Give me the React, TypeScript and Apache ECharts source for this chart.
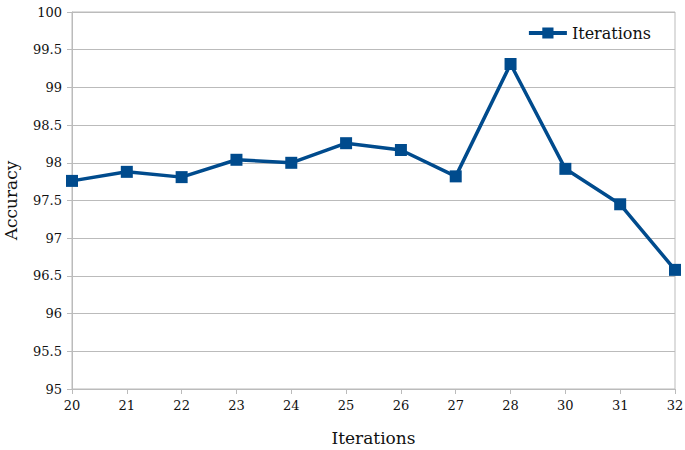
import React, { useEffect, useRef } from "react";
import * as echarts from "echarts";

const categories = ["20", "21", "22", "23", "24", "25", "26", "27", "28", "30", "31", "32"];
const accuracy = [97.76, 97.88, 97.81, 98.04, 98.0, 98.26, 98.17, 97.82, 99.31, 97.92, 97.45, 96.58];
const seriesName = "Iterations";

const FONT = "'DejaVu Serif', 'Liberation Serif', serif";
const BLUE = "#004b8d";

export default function App() {
  const ref = useRef<HTMLDivElement>(null);
  useEffect(() => {
    if (!ref.current) return;
    const chart = echarts.init(ref.current, null, { renderer: "svg" });
    chart.setOption({
      animation: false,
      backgroundColor: "#ffffff",
      textStyle: { fontFamily: FONT },
      grid: {
        left: 72,
        right: 10,
        top: 12,
        bottom: 61,
        outerBoundsMode: "none",
        containLabel: false,
        show: true,
        borderColor: "#bbbbbb",
        borderWidth: 1,
      },
      legend: {
        right: 29,
        top: 20,
        itemWidth: 38,
        itemHeight: 14,
        itemGap: 5,
        lineStyle: { width: 4 },
        textStyle: { fontFamily: FONT, fontSize: 16, color: "#111" },
        data: [seriesName],
      },
      xAxis: {
        type: "category",
        data: categories,
        boundaryGap: false,
        name: "Iterations",
        nameLocation: "middle",
        nameGap: 40,
        nameTextStyle: { fontFamily: FONT, fontSize: 17, color: "#111" },
        axisLine: { lineStyle: { color: "#bbbbbb", width: 1 } },
        axisTick: { show: true, length: 5, lineStyle: { color: "#bbbbbb" } },
        axisLabel: { fontFamily: FONT, fontSize: 13, color: "#111", margin: 10 },
        splitLine: { show: false },
      },
      yAxis: {
        type: "value",
        min: 95,
        max: 100,
        interval: 0.5,
        name: "Accuracy",
        nameLocation: "middle",
        nameGap: 53,
        nameRotate: 90,
        nameTextStyle: { fontFamily: FONT, fontSize: 17, color: "#111" },
        axisLine: { show: true, lineStyle: { color: "#bbbbbb", width: 1 } },
        axisTick: { show: true, length: 5, lineStyle: { color: "#bbbbbb" } },
        axisLabel: { fontFamily: FONT, fontSize: 13, color: "#111", margin: 10 },
        splitLine: { show: true, lineStyle: { color: "#bbbbbb", width: 1 } },
      },
      series: [
        {
          name: seriesName,
          type: "line",
          data: accuracy,
          symbol: "rect",
          symbolSize: 12,
          itemStyle: { color: BLUE },
          lineStyle: { color: BLUE, width: 3.5 },
        },
      ],
    });
    return () => chart.dispose();
  }, []);
  return (
    <div
      ref={ref}
      style={{ position: "fixed", left: 0, top: 0, width: 685, height: 450 }}
    />
  );
}
